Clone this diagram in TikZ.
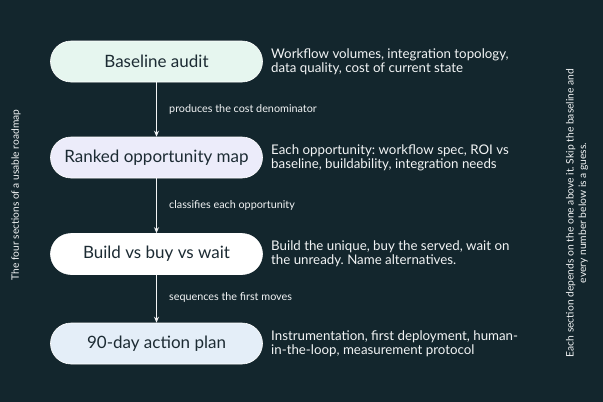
\documentclass[tikz,border=0pt]{standalone}
\usepackage{fontspec}
\setmainfont{Lato}
\frenchspacing
\usetikzlibrary{arrows.meta}
\definecolor{bgc}{HTML}{13262D}
\definecolor{boxa}{HTML}{E6F6EF}
\definecolor{boxb}{HTML}{ECECFA}
\definecolor{boxc}{HTML}{FFFFFF}
\definecolor{boxd}{HTML}{E4EEF8}
\definecolor{ink}{HTML}{1C2B33}
\definecolor{light}{HTML}{F2F4F5}
\tikzset{
  stage/.style={draw=white, line width=0.6pt, rounded corners=20.5pt, minimum width=212pt, minimum height=41pt,
    text=ink, font=\fontsize{17}{20}\selectfont, inner sep=0pt},
  desc/.style={anchor=west, align=left, text=light, font=\fontsize{13.3}{14}\selectfont, inner sep=0pt},
  flowlbl/.style={anchor=west, text=light, font=\fontsize{10.8}{12}\selectfont, inner sep=0pt},
  flow/.style={draw=light, line width=1.1pt, -{Stealth[length=6pt,width=5pt]}},
  side/.style={rotate=90, text=light, inner sep=0pt, align=center}
}
\begin{document}
\begin{tikzpicture}[x=1pt,y=-1pt]
\fill[bgc] (0,0) rectangle (603,402);
\useasboundingbox (0,0) rectangle (603,402);
\node[stage, fill=boxa] (s1) at (156.5,61.5) {Baseline audit};
\node[stage, fill=boxb] (s2) at (156.5,157.5) {Ranked opportunity map};
\node[stage, fill=boxc] (s3) at (156.5,254) {Build vs buy vs wait};
\node[stage, fill=boxd] (s4) at (156.5,343.5) {90-day action plan};
\draw[flow] (s1.south) -- (s2.north);
\draw[flow] (s2.south) -- (s3.north);
\draw[flow] (s3.south) -- (s4.north);
\node[flowlbl] (l1) at (169,109) {produces the cost denominator};
\node[flowlbl] (l2) at (169,205.5) {classifies each opportunity};
\node[flowlbl] (l3) at (169,297) {sequences the first moves};
\node[desc] (d1) at (271,61.5) {Workflow volumes, integration topology,\\data quality, cost of current state};
\node[desc] (d2) at (271,157.5) {Each opportunity: workflow spec, ROI vs\\baseline, buildability, integration needs};
\node[desc] (d3) at (271,254) {Build the unique, buy the served, wait on\\the unready. Name alternatives.};
\node[desc] (d4) at (271,343.5) {Instrumentation, first deployment, human-\\in-the-loop, measurement protocol};
\node[side, font=\fontsize{10.2}{12}\selectfont] (lt) at (16,195) {The four sections of a usable roadmap};
\node[side, font=\fontsize{10.3}{12.5}\selectfont] (rt) at (577,213) {Each section depends on the one above it. Skip the baseline and\\every number below is a guess.};
\end{tikzpicture}
\end{document}
